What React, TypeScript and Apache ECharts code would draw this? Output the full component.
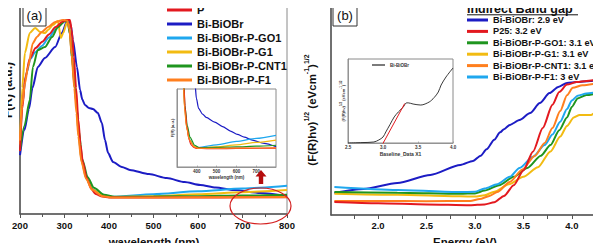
import React, { useEffect, useRef } from 'react';
import * as echarts from 'echarts';

const FONT = "'Liberation Sans', Arial, Helvetica, sans-serif";

// ---------- (a) absorbance spectra: [wavelength nm, F(R) a.u.] ----------
const absNames = ['P', 'Bi-BiOBr', 'Bi-BiOBr-P-GO1', 'Bi-BiOBr-P-G1', 'Bi-BiOBr-P-CNT1', 'Bi-BiOBr-P-F1'];
const absColors = ['#e3191f', '#1c1cc4', '#1fa7ee', '#f2bb12', '#1f951f', '#ff7f1e'];

const absP = [[200,0.3],[205,0.5],[212,0.65],[222,0.74],[235,0.79],[250,0.82],[265,0.855],[280,0.89],[295,0.915],[305,0.924],[312,0.924],[316,0.88],[321,0.75],[326,0.6],[331,0.45],[336,0.33],[341,0.25],[350,0.17],[360,0.12],[370,0.095],[385,0.083],[400,0.079],[450,0.078],[550,0.078],[650,0.079],[800,0.08]];
const absBiBiOBr = [[200,0.28],[210,0.4],[220,0.5],[228,0.6],[240,0.7],[256,0.743],[279,0.795],[294,0.862],[306,0.919],[309,0.924],[314,0.9],[319,0.829],[328,0.7],[335,0.59],[340,0.545],[346,0.519],[355,0.505],[364,0.5],[375,0.481],[384,0.433],[391,0.352],[398,0.29],[409,0.248],[429,0.224],[447,0.21],[490,0.19],[530,0.171],[570,0.152],[605,0.138],[640,0.126],[680,0.114],[740,0.1],[800,0.086]];
const absGO1 = [[200,0.32],[205,0.52],[213,0.66],[224,0.74],[234,0.77],[249,0.8],[265,0.84],[280,0.88],[295,0.91],[303,0.922],[308,0.915],[313,0.85],[318,0.72],[324,0.59],[328,0.495],[331,0.39],[339,0.25],[350,0.165],[364,0.116],[387,0.088],[409,0.082],[500,0.094],[600,0.108],[700,0.121],[800,0.134]];
const absG1 = [[200,0.33],[205,0.6],[211,0.767],[222,0.862],[234,0.886],[245,0.867],[256,0.862],[263,0.876],[274,0.9],[285,0.919],[292,0.838],[297,0.862],[306,0.914],[310,0.905],[314,0.83],[319,0.7],[324,0.59],[328,0.495],[331,0.39],[339,0.245],[350,0.163],[364,0.114],[387,0.087],[409,0.081],[500,0.085],[600,0.094],[700,0.104],[800,0.114]];
const absCNT1 = [[200,0.3],[210,0.42],[222,0.543],[229,0.7],[240,0.78],[256,0.795],[272,0.843],[285,0.89],[301,0.919],[307,0.915],[312,0.86],[317,0.74],[323,0.6],[328,0.5],[332,0.4],[340,0.26],[352,0.175],[366,0.125],[389,0.092],[412,0.082],[500,0.083],[600,0.085],[700,0.088],[800,0.092]];
const absF1 = [[200,0.35],[205,0.52],[211,0.62],[218,0.7],[229,0.814],[238,0.843],[249,0.867],[263,0.89],[279,0.914],[297,0.924],[306,0.922],[311,0.88],[316,0.76],[322,0.6],[327,0.48],[331,0.37],[338,0.25],[348,0.17],[362,0.115],[385,0.085],[405,0.079],[500,0.079],[650,0.08],[800,0.081]];
const absData = [absP, absBiBiOBr, absGO1, absG1, absCNT1, absF1];
// drawing order (last on top)
const absOrder = [1, 2, 3, 4, 0, 5];

const wlTicks = [200, 300, 400, 500, 600, 700, 800];

// ---------- (b) Tauc plots: [energy eV, (F(R)hν)^1/2] ----------
const taucNames = ['Bi-BiOBr', 'P25', 'Bi-BiOBr-P-GO1', 'Bi-BiOBr-P-G1', 'Bi-BiOBr-P-CNT1', 'Bi-BiOBr-P-F1'];
const taucGaps = [2.9, 3.2, 3.1, 3.1, 3.1, 3];
const taucColors = ['#1c1cc4', '#e3191f', '#1f951f', '#f2bb12', '#ff7f1e', '#1fa7ee'];

const taucBiBiOBr = [[1.55,0.104],[1.85,0.123],[2.2,0.151],[2.54,0.189],[2.85,0.236],[2.98,0.255],[3.06,0.28],[3.12,0.31],[3.2,0.355],[3.26,0.39],[3.3,0.405],[3.36,0.425],[3.46,0.448],[3.57,0.481],[3.67,0.528],[3.77,0.575],[3.86,0.604],[3.95,0.623],[4.05,0.627],[4.19,0.632],[4.27,0.637]];
const taucP25 = [[1.55,0.061],[2.0,0.055],[2.5,0.05],[2.95,0.046],[3.1,0.05],[3.2,0.06],[3.3,0.09],[3.4,0.14],[3.5,0.21],[3.6,0.3],[3.7,0.41],[3.8,0.52],[3.87,0.58],[3.95,0.615],[4.05,0.627],[4.15,0.632],[4.27,0.64]];
const taucGO1 = [[1.55,0.108],[2.2,0.105],[2.85,0.1],[3.0,0.102],[3.1,0.115],[3.25,0.14],[3.4,0.18],[3.54,0.222],[3.68,0.28],[3.78,0.33],[3.87,0.4],[3.95,0.46],[4.0,0.51],[4.06,0.55],[4.15,0.566],[4.27,0.575]];
const taucG1 = [[1.55,0.1],[2.2,0.095],[2.85,0.088],[3.0,0.087],[3.1,0.093],[3.2,0.11],[3.35,0.145],[3.5,0.18],[3.65,0.225],[3.78,0.3],[3.88,0.37],[3.95,0.42],[4.02,0.46],[4.08,0.472],[4.2,0.472],[4.25,0.485],[4.27,0.5]];
const taucCNT1 = [[1.55,0.066],[2.0,0.066],[2.5,0.065],[2.95,0.066],[3.05,0.075],[3.15,0.09],[3.23,0.108],[3.36,0.156],[3.49,0.215],[3.62,0.28],[3.72,0.34],[3.8,0.41],[3.88,0.49],[3.95,0.565],[4.01,0.6],[4.11,0.612],[4.27,0.622]];
const taucF1 = [[1.55,0.132],[2.2,0.118],[2.85,0.108],[3.0,0.11],[3.1,0.125],[3.23,0.145],[3.36,0.18],[3.46,0.222],[3.6,0.275],[3.72,0.33],[3.8,0.38],[3.88,0.44],[3.95,0.5],[4.0,0.54],[4.06,0.563],[4.15,0.573],[4.27,0.58]];
const taucData = [taucBiBiOBr, taucP25, taucGO1, taucG1, taucCNT1, taucF1];
const taucOrder = [0, 3, 2, 5, 4, 1];

const energyTicks = [2.0, 2.5, 3.0, 3.5, 4.0];
const energyMinorTicks = [1.75, 2.0, 2.25, 2.5, 2.75, 3.0, 3.25, 3.5, 3.75, 4.0, 4.25];

// baseline-corrected Bi-BiOBr curve with its linear extrapolation
const insetBaseline = [[2.5,0.0],[2.7,0.005],[2.87,0.012],[2.94,0.036],[3.0,0.071],[3.04,0.131],[3.1,0.22],[3.16,0.31],[3.22,0.37],[3.29,0.429],[3.33,0.476],[3.36,0.478],[3.43,0.464],[3.54,0.452],[3.66,0.488],[3.73,0.54],[3.79,0.607],[3.83,0.69],[3.9,0.786],[4.0,0.893]];
const insetTangent = [[2.99,-0.02],[3.31,0.47]];

const legendName = (i: number) => `${taucNames[i]}: ${taucGaps[i]} eV`;

const boldText = (size: number) => ({ fontFamily: FONT, fontWeight: 'bold' as const, fontSize: size, color: '#111' });

const TAUC_LABEL = '{n|(F(R)hν)}{s|1/2}{n| (eVcm}{s|-1}{n|)}{s|1/2}';

export default function App() {
  const ref = useRef<HTMLDivElement>(null);

  useEffect(() => {
    if (!ref.current) return;
    const chart = echarts.init(ref.current, undefined, { renderer: 'svg' });

    const frame = { show: true, borderColor: '#8a8a8a', borderWidth: 1, backgroundColor: 'transparent' };
    const axisLine = { show: true, lineStyle: { color: '#555', width: 1.5 } };
    const insetAxisLine = { show: true, lineStyle: { color: '#888', width: 0.8 } };

    const series: any[] = [];
    absOrder.forEach((i) => {
      series.push({
        type: 'line', name: absNames[i], xAxisIndex: 0, yAxisIndex: 0,
        data: absData[i], showSymbol: false, smooth: 0.25, smoothMonotone: 'x',
        color: absColors[i], lineStyle: { color: absColors[i], width: 2 },
      });
    });
    absOrder.forEach((i) => {
      series.push({
        type: 'line', name: absNames[i], xAxisIndex: 2, yAxisIndex: 2,
        data: absData[i], showSymbol: false, smooth: 0.25, smoothMonotone: 'x',
        color: absColors[i], lineStyle: { color: absColors[i], width: 1.2 },
      });
    });
    taucOrder.forEach((i) => {
      series.push({
        type: 'line', name: legendName(i), xAxisIndex: 1, yAxisIndex: 1,
        data: taucData[i], showSymbol: false, smooth: 0.25, smoothMonotone: 'x',
        color: taucColors[i], lineStyle: { color: taucColors[i], width: 2 },
      });
    });
    series.push({
      type: 'line', name: 'Bi-BiOBr baseline', xAxisIndex: 3, yAxisIndex: 3,
      data: insetBaseline, showSymbol: false, smooth: 0.3,
      color: '#222', lineStyle: { color: '#222', width: 0.9 },
    });
    series.push({
      type: 'line', name: 'linear fit', xAxisIndex: 3, yAxisIndex: 3,
      data: insetTangent, showSymbol: false,
      color: '#e3191f', lineStyle: { color: '#e3191f', width: 1 },
    });

    const option: any = {
      animation: false,
      backgroundColor: '#fff',
      grid: [
        { left: 20, top: 4, width: 267, height: 210, ...frame },
        { left: 331, top: 3, width: 267, height: 212, ...frame },
        { left: 177, top: 89, width: 99, height: 78, ...frame },
        { left: 348, top: 59, width: 105, height: 84, ...frame },
      ],
      xAxis: [
        {
          type: 'value', gridIndex: 0, min: 200, max: 800, interval: 100,
          axisLine, axisTick: { show: true, length: 4, lineStyle: { color: '#555' } },
          minorTick: { show: true, splitNumber: 2, length: 3, lineStyle: { color: '#555' } },
          axisLabel: { ...boldText(9.5), margin: 6, customValues: wlTicks },
          splitLine: { show: false },
        },
        {
          type: 'value', gridIndex: 1, min: 1.515, max: 4.27,
          axisLine,
          axisTick: { show: true, length: 4, lineStyle: { color: '#555' }, customValues: energyMinorTicks },
          axisLabel: { ...boldText(9.5), margin: 5, customValues: energyTicks, formatter: (v: number) => v.toFixed(1) },
          splitLine: { show: false },
        },
        {
          type: 'value', gridIndex: 2, min: 300, max: 800, interval: 100,
          axisLine: insetAxisLine,
          axisTick: { show: true, length: 1.5, inside: true, lineStyle: { color: '#888', width: 0.6 } },
          axisLabel: { ...boldText(4.5), color: '#333', margin: 2, showMinLabel: false, showMaxLabel: false },
          name: 'wavelength (nm)', nameLocation: 'middle', nameGap: 8,
          nameTextStyle: { ...boldText(4.5), color: '#333' },
          splitLine: { show: false },
        },
        {
          type: 'value', gridIndex: 3, min: 2.5, max: 4.0, interval: 0.5,
          axisLine: insetAxisLine,
          axisTick: { show: true, length: 1.5, inside: true, lineStyle: { color: '#888', width: 0.6 } },
          axisLabel: { ...boldText(4.5), color: '#333', margin: 2, formatter: (v: number) => v.toFixed(1) },
          name: 'Baseline_Data X1', nameLocation: 'middle', nameGap: 8,
          nameTextStyle: { ...boldText(5), color: '#333' },
          splitLine: { show: false },
        },
      ],
      yAxis: [
        { type: 'value', gridIndex: 0, min: 0, max: 1, axisLine, axisTick: { show: false }, axisLabel: { show: false }, splitLine: { show: false } },
        { type: 'value', gridIndex: 1, min: 0, max: 1, axisLine, axisTick: { show: false }, axisLabel: { show: false }, splitLine: { show: false } },
        {
          type: 'value', gridIndex: 2, min: 0, max: 0.33,
          axisLine: insetAxisLine,
          axisTick: { show: false }, axisLabel: { show: false }, splitLine: { show: false },
          name: 'F(R) (a.u.)', nameLocation: 'middle', nameGap: 3, nameRotate: 90,
          nameTextStyle: { ...boldText(4), color: '#333' },
        },
        {
          type: 'value', gridIndex: 3, min: 0, max: 1,
          axisLine: insetAxisLine,
          axisTick: { show: false }, axisLabel: { show: false }, splitLine: { show: false },
          name: TAUC_LABEL, nameLocation: 'middle', nameGap: 3, nameRotate: 90,
          nameTextStyle: {
            ...boldText(4), color: '#333',
            rich: {
              n: { fontFamily: FONT, fontWeight: 'bold', fontSize: 4, color: '#333', lineHeight: 6, verticalAlign: 'bottom' },
              s: { fontFamily: FONT, fontWeight: 'bold', fontSize: 3, color: '#333', lineHeight: 6, verticalAlign: 'top' },
            },
          },
        },
      ],
      legend: [
        {
          orient: 'vertical', left: 167, top: 3.5, padding: 0, itemGap: 1,
          itemWidth: 25, itemHeight: 3, icon: 'rect', selectedMode: false,
          textStyle: { ...boldText(11), lineHeight: 13 },
          data: absNames,
        },
        {
          orient: 'vertical', left: 467, top: 14.3, padding: 0, itemGap: 0,
          itemWidth: 21, itemHeight: 3, icon: 'rect', selectedMode: false,
          textStyle: { ...boldText(9.2), lineHeight: 11.4 },
          data: taucNames.map((_, i) => legendName(i)),
        },
        {
          orient: 'vertical', left: 372, top: 62, padding: 0,
          itemWidth: 13, itemHeight: 1.2, icon: 'rect', selectedMode: false,
          textStyle: { ...boldText(4.5), color: '#333', lineHeight: 6 },
          data: ['Bi-BiOBr baseline'],
          formatter: () => 'Bi-BiOBr',
        },
      ],
      graphic: [
        // panel labels
        { type: 'rect', shape: { x: 23, y: 5, width: 23, height: 21 }, style: { fill: '#fff', stroke: '#333', lineWidth: 1 }, z: 10 },
        { type: 'text', x: 34.5, y: 15.5, style: { text: '(a)', font: `13px ${FONT}`, fill: '#111', align: 'center', verticalAlign: 'middle' }, z: 11 },
        { type: 'rect', shape: { x: 333, y: 5, width: 24, height: 21 }, style: { fill: '#fff', stroke: '#333', lineWidth: 1 }, z: 10 },
        { type: 'text', x: 345, y: 15.5, style: { text: '(b)', font: `13px ${FONT}`, fill: '#111', align: 'center', verticalAlign: 'middle' }, z: 11 },
        // axis titles
        { type: 'text', x: 154, y: 242, style: { text: 'wavelength (nm)', font: `bold 11.5px ${FONT}`, fill: '#111', align: 'center', verticalAlign: 'middle' } },
        { type: 'text', x: 465, y: 242, style: { text: 'Energy (eV)', font: `bold 11.5px ${FONT}`, fill: '#111', align: 'center', verticalAlign: 'middle' } },
        {
          type: 'text', x: 8, y: 90, rotation: Math.PI / 2,
          style: {
            text: '{n|F(R) (a.u.)}',
            align: 'center', verticalAlign: 'middle',
            rich: { n: { fontFamily: FONT, fontWeight: 'bold', fontSize: 12, fill: '#111', lineHeight: 14 } },
          },
        },
        {
          type: 'text', x: 310, y: 110, rotation: Math.PI / 2,
          style: {
            text: TAUC_LABEL,
            align: 'center', verticalAlign: 'middle',
            rich: {
              n: { fontFamily: FONT, fontWeight: 'bold', fontSize: 11.5, fill: '#111', lineHeight: 15, verticalAlign: 'bottom' },
              s: { fontFamily: FONT, fontWeight: 'bold', fontSize: 7, fill: '#111', lineHeight: 15, verticalAlign: 'top' },
            },
          },
        },
        // legend heading of panel (b)
        { type: 'text', x: 467, y: 8.5, style: { text: 'Indirect Band gap', font: `bold 12.5px ${FONT}`, fill: '#111', align: 'left', verticalAlign: 'middle' } },
        { type: 'line', shape: { x1: 467, y1: 14.8, x2: 578, y2: 14.8 }, style: { stroke: '#111', lineWidth: 1 } },
        // highlighted region and arrow towards the zoomed inset
        { type: 'ellipse', shape: { cx: 260.5, cy: 206, rx: 30.5, ry: 18 }, style: { fill: 'none', stroke: '#d42020', lineWidth: 1.2 }, z: 10 },
        {
          type: 'polygon',
          shape: { points: [[261, 170], [255.5, 176.5], [258.8, 176.5], [258.8, 184], [263.2, 184], [263.2, 176.5], [266.5, 176.5]] },
          style: { fill: '#b50d0d' }, z: 10,
        },
      ],
      series,
    };

    chart.setOption(option);
    return () => chart.dispose();
  }, []);

  return <div ref={ref} style={{ width: 601, height: 251, margin: -8 }} />;
}
